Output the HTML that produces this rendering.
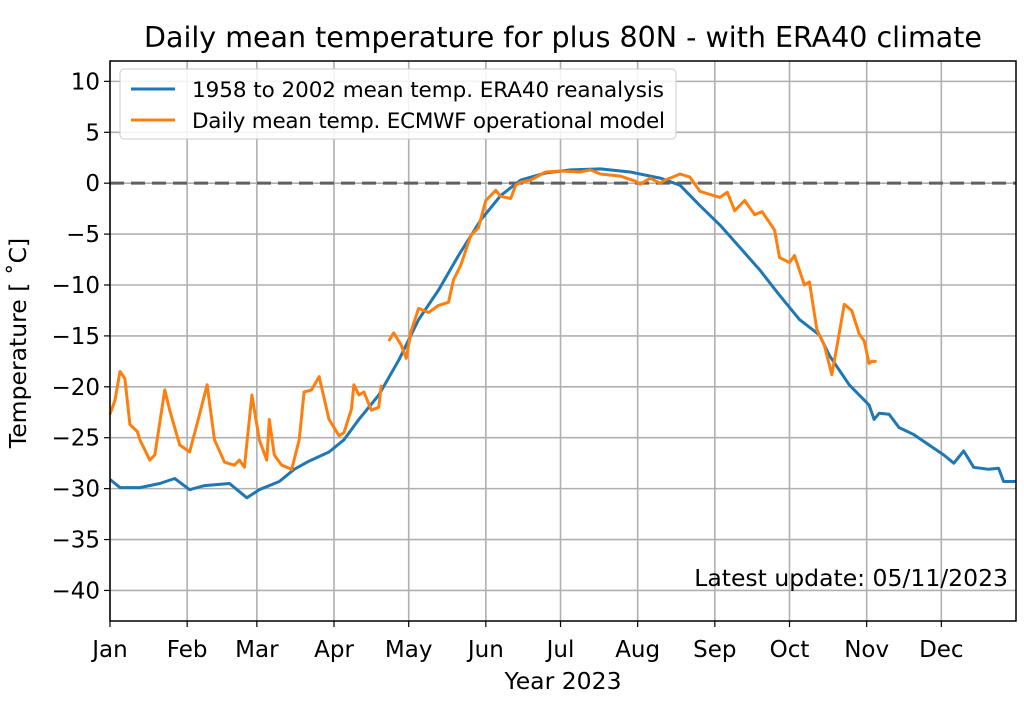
<!DOCTYPE html>
<html><head><meta charset="utf-8"><style>
body{margin:0;background:#fff;font-family:"DejaVu Sans","Liberation Sans",sans-serif}
</style></head><body>
<svg id="c" width="1024" height="722" xmlns="http://www.w3.org/2000/svg" font-family="DejaVu Sans, Liberation Sans, sans-serif"></svg>
<script>
const monthLabels=["Jan","Feb","Mar","Apr","May","Jun","Jul","Aug","Sep","Oct","Nov","Dec"];
const monthDays=[0,31,59,90,120,151,181,212,243,273,304,334];
const yTicks=[10,5,0,-5,-10,-15,-20,-25,-30,-35,-40];
const climDays=[0,4,12,20,26,32,38,48,55,60,68,74,80,88,94,100,108,116,124,132,140,149,157,165,175,185,197,209,221,229,237,245,253,261,269,277,285,289,297,305,307,309,313,317,323,329,335,339,343,347,353,357,359,364];
const climTemps=[-29.1,-29.9,-29.9,-29.5,-29.0,-30.1,-29.7,-29.5,-30.9,-30.1,-29.3,-28.1,-27.3,-26.4,-25.2,-23.2,-20.8,-17.4,-13.4,-10.5,-7.1,-3.6,-1.2,0.3,1.0,1.3,1.4,1.1,0.5,-0.2,-2.2,-4.1,-6.3,-8.5,-11.0,-13.4,-14.9,-16.9,-19.8,-21.8,-23.2,-22.6,-22.7,-24.0,-24.7,-25.7,-26.7,-27.5,-26.3,-27.9,-28.1,-28.0,-29.3,-29.3];
const opDays1=[0,2,4,6,8,11,12,16,18,22,24,28,32,36,39,42,46,50,52,54,57,60,63,64,66,69,73,76,78,81,84,88,92,94,97,98,100,102,105,108,109];
const opTemps1=[-22.7,-21.3,-18.5,-19.2,-23.7,-24.4,-25.2,-27.2,-26.7,-20.3,-22.3,-25.7,-26.4,-22.7,-19.8,-25.2,-27.4,-27.7,-27.2,-27.9,-20.8,-25.2,-27.2,-23.2,-26.7,-27.7,-28.1,-25.2,-20.5,-20.3,-19.0,-23.2,-24.8,-24.5,-22.2,-19.8,-20.8,-20.5,-22.3,-22.0,-19.8];
const opDays2=[112,114,117,119,121,124,128,132,136,138,141,145,148,151,155,157,161,163,165,169,175,181,189,193,197,205,211,213,217,221,223,227,229,233,237,245,248,251,255,259,262,267,269,273,275,279,281,284,287,290,292,295,298,301,303,305,306,308];
const opTemps2=[-15.5,-14.7,-15.9,-17.2,-14.5,-12.3,-12.7,-12.0,-11.7,-9.5,-8.0,-5.1,-4.4,-1.7,-0.7,-1.3,-1.5,-0.2,0.1,0.3,1.1,1.2,1.1,1.3,0.9,0.7,0.2,-0.1,0.5,0.0,0.3,0.7,0.9,0.6,-0.8,-1.4,-0.9,-2.7,-1.7,-3.1,-2.8,-4.6,-7.3,-7.8,-7.1,-10.0,-9.7,-14.4,-15.9,-18.8,-16.1,-11.9,-12.5,-14.8,-15.5,-17.7,-17.5,-17.5];
const L=110,R=1016,T=61,B=621,X0=0,X1=364,Y0=-43,Y1=12;
const sx=d=>L+(d-X0)/(X1-X0)*(R-L);
const sy=v=>B-(v-Y0)/(Y1-Y0)*(B-T);
const svg=document.getElementById('c');const NS="http://www.w3.org/2000/svg";
function mk(t,a,p){const e=document.createElementNS(NS,t);for(const k in a)e.setAttribute(k,a[k]);(p||svg).appendChild(e);return e;}
const grid=mk('g',{});


monthDays.forEach((d,i)=>{
 mk('line',{x1:sx(d),x2:sx(d),y1:T,y2:B,stroke:'#b0b0b0','stroke-width':1.6},grid);
 mk('line',{x1:sx(d),x2:sx(d),y1:B,y2:B+6,stroke:'#000','stroke-width':1.2});
 const t=mk('text',{x:sx(d),y:B+36,'text-anchor':'middle','font-size':23,fill:'#000'});t.textContent=monthLabels[i];
 
 
});
yTicks.forEach(v=>{
 mk('line',{x1:L,x2:R,y1:sy(v),y2:sy(v),stroke:'#b0b0b0','stroke-width':1.6},grid);
 mk('line',{x1:L-6,x2:L,y1:sy(v),y2:sy(v),stroke:'#000','stroke-width':1.2});
 const t=mk('text',{x:L-10,y:sy(v)+8,'text-anchor':'end','font-size':23,fill:'#000'});t.textContent=(v<0?'\u2212':'')+Math.abs(v);
 
 
});
const zl=mk('line',{x1:L,x2:R,y1:sy(0),y2:sy(0),stroke:'#606060','stroke-width':3,'stroke-dasharray':'14,7'});


function path(days,temps,color,name){let d='';days.forEach((x,i)=>{d+=(i?'L':'M')+sx(x).toFixed(1)+','+sy(temps[i]).toFixed(1);});
 const p=mk('path',{d:d,fill:'none',stroke:color,'stroke-width':3,'stroke-linejoin':'round'});
 
 }
path(climDays,climTemps,'#1f77b4','climate-line');
path(opDays1,opTemps1,'#ff7f0e','operational-line-part1');
path(opDays2,opTemps2,'#ff7f0e','operational-line-part2');
const fr=mk('rect',{x:L,y:T,width:R-L,height:B-T,fill:'none',stroke:'#000','stroke-width':1.5});


</script>
<svg style="position:absolute;left:0;top:0" width="1024" height="722" font-family="DejaVu Sans, Liberation Sans, sans-serif">
<text x="563" y="47" text-anchor="middle" font-size="28.5">Daily mean temperature for plus 80N - with ERA40 climate</text>
<text x="563" y="689" text-anchor="middle" font-size="23.5">Year 2023</text>
<text transform="translate(26,343) rotate(-90)" text-anchor="middle" font-size="23.5">Temperature [ ˚C]</text>
<g>
<rect x="120" y="69" width="556" height="70" rx="4" fill="#fff" fill-opacity="0.85" stroke="#ccc"/>
<line x1="131" x2="175" y1="89" y2="89" stroke="#1f77b4" stroke-width="3"/>
<text x="192" y="97" font-size="21.5" textLength="472">1958 to 2002 mean temp. ERA40 reanalysis</text>
<line x1="131" x2="175" y1="120" y2="120" stroke="#ff7f0e" stroke-width="3"/>
<text x="192" y="128" font-size="21.5" textLength="473">Daily mean temp. ECMWF operational model</text>
</g>
<text x="1008" y="586" text-anchor="end" font-size="23.5">Latest update: 05/11/2023</text>
</svg>
</body></html>
